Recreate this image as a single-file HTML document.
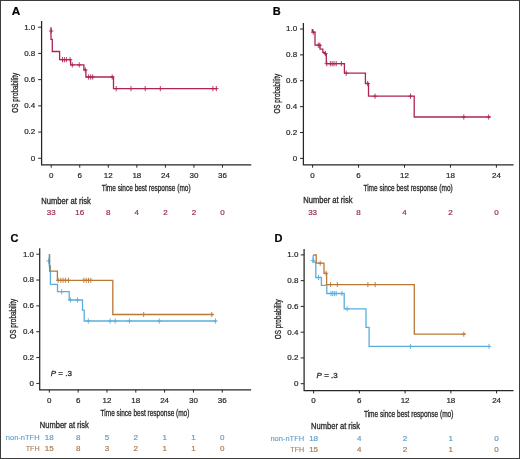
<!DOCTYPE html>
<html><head><meta charset="utf-8"><title>Kaplan-Meier OS curves</title>
<style>
html,body{margin:0;padding:0;background:#fff;}
body{width:520px;height:459px;overflow:hidden;}
.fig{position:relative;width:520px;height:459px;box-sizing:border-box;border:1px solid #3c3c3c;border-right-width:1.3px;border-bottom-width:1.3px;background:#fff;}
svg{position:absolute;left:-1px;top:-1px;font-family:"Liberation Sans", sans-serif;will-change:transform;}
</style></head>
<body><div class="fig">
<svg width="520" height="459" viewBox="0 0 520 459">
<path d="M41.60 20.90 V164.90 H251.20" fill="none" stroke="#262626" stroke-width="1.25"/>
<line x1="38.20" y1="27.20" x2="41.60" y2="27.20" stroke="#262626" stroke-width="1"/>
<text x="35.30" y="29.60" font-size="8.0" text-anchor="end" fill="#262626" stroke="#262626" stroke-width="0.2" font-weight="normal" >1.0</text>
<line x1="38.20" y1="53.42" x2="41.60" y2="53.42" stroke="#262626" stroke-width="1"/>
<text x="35.30" y="55.82" font-size="8.0" text-anchor="end" fill="#262626" stroke="#262626" stroke-width="0.2" font-weight="normal" >0.8</text>
<line x1="38.20" y1="79.64" x2="41.60" y2="79.64" stroke="#262626" stroke-width="1"/>
<text x="35.30" y="82.04" font-size="8.0" text-anchor="end" fill="#262626" stroke="#262626" stroke-width="0.2" font-weight="normal" >0.6</text>
<line x1="38.20" y1="105.86" x2="41.60" y2="105.86" stroke="#262626" stroke-width="1"/>
<text x="35.30" y="108.26" font-size="8.0" text-anchor="end" fill="#262626" stroke="#262626" stroke-width="0.2" font-weight="normal" >0.4</text>
<line x1="38.20" y1="132.08" x2="41.60" y2="132.08" stroke="#262626" stroke-width="1"/>
<text x="35.30" y="134.48" font-size="8.0" text-anchor="end" fill="#262626" stroke="#262626" stroke-width="0.2" font-weight="normal" >0.2</text>
<line x1="38.20" y1="158.30" x2="41.60" y2="158.30" stroke="#262626" stroke-width="1"/>
<text x="35.30" y="160.70" font-size="8.0" text-anchor="end" fill="#262626" stroke="#262626" stroke-width="0.2" font-weight="normal" >0</text>
<line x1="51.20" y1="164.90" x2="51.20" y2="167.70" stroke="#262626" stroke-width="1"/>
<text x="51.20" y="177.60" font-size="8.0" text-anchor="middle" fill="#262626" stroke="#262626" stroke-width="0.2" font-weight="normal" >0</text>
<line x1="79.75" y1="164.90" x2="79.75" y2="167.70" stroke="#262626" stroke-width="1"/>
<text x="79.75" y="177.60" font-size="8.0" text-anchor="middle" fill="#262626" stroke="#262626" stroke-width="0.2" font-weight="normal" >6</text>
<line x1="108.30" y1="164.90" x2="108.30" y2="167.70" stroke="#262626" stroke-width="1"/>
<text x="108.30" y="177.60" font-size="8.0" text-anchor="middle" fill="#262626" stroke="#262626" stroke-width="0.2" font-weight="normal" >12</text>
<line x1="136.85" y1="164.90" x2="136.85" y2="167.70" stroke="#262626" stroke-width="1"/>
<text x="136.85" y="177.60" font-size="8.0" text-anchor="middle" fill="#262626" stroke="#262626" stroke-width="0.2" font-weight="normal" >18</text>
<line x1="165.40" y1="164.90" x2="165.40" y2="167.70" stroke="#262626" stroke-width="1"/>
<text x="165.40" y="177.60" font-size="8.0" text-anchor="middle" fill="#262626" stroke="#262626" stroke-width="0.2" font-weight="normal" >24</text>
<line x1="193.95" y1="164.90" x2="193.95" y2="167.70" stroke="#262626" stroke-width="1"/>
<text x="193.95" y="177.60" font-size="8.0" text-anchor="middle" fill="#262626" stroke="#262626" stroke-width="0.2" font-weight="normal" >30</text>
<line x1="222.50" y1="164.90" x2="222.50" y2="167.70" stroke="#262626" stroke-width="1"/>
<text x="222.50" y="177.60" font-size="8.0" text-anchor="middle" fill="#262626" stroke="#262626" stroke-width="0.2" font-weight="normal" >36</text>
<text x="101.70" y="191.30" font-size="9.0" fill="#262626" stroke="#262626" stroke-width="0.3" textLength="88.90" lengthAdjust="spacingAndGlyphs">Time since best response (mo)</text>
<text transform="translate(17.90 92.75) rotate(-90)" x="0" y="0" font-size="9.4" fill="#262626" stroke="#262626" stroke-width="0.32" text-anchor="middle" textLength="39.8" lengthAdjust="spacingAndGlyphs">OS probability</text>
<text x="11.70" y="14.70" font-size="11.8" text-anchor="start" fill="#000" stroke="#000" stroke-width="0.2" font-weight="bold" >A</text>
<text x="41.30" y="203.90" font-size="8.4" fill="#262626" stroke="#262626" stroke-width="0.28" textLength="49.50" lengthAdjust="spacingAndGlyphs">Number at risk</text>
<text x="51.20" y="215.00" font-size="8.0" text-anchor="middle" fill="#9c2a4e" stroke="#9c2a4e" stroke-width="0.2" font-weight="normal" >33</text>
<text x="79.75" y="215.00" font-size="8.0" text-anchor="middle" fill="#9c2a4e" stroke="#9c2a4e" stroke-width="0.2" font-weight="normal" >16</text>
<text x="108.30" y="215.00" font-size="8.0" text-anchor="middle" fill="#9c2a4e" stroke="#9c2a4e" stroke-width="0.2" font-weight="normal" >8</text>
<text x="136.85" y="215.00" font-size="8.0" text-anchor="middle" fill="#9c2a4e" stroke="#9c2a4e" stroke-width="0.2" font-weight="normal" >4</text>
<text x="165.40" y="215.00" font-size="8.0" text-anchor="middle" fill="#9c2a4e" stroke="#9c2a4e" stroke-width="0.2" font-weight="normal" >2</text>
<text x="193.95" y="215.00" font-size="8.0" text-anchor="middle" fill="#9c2a4e" stroke="#9c2a4e" stroke-width="0.2" font-weight="normal" >2</text>
<text x="222.50" y="215.00" font-size="8.0" text-anchor="middle" fill="#9c2a4e" stroke="#9c2a4e" stroke-width="0.2" font-weight="normal" >0</text>
<path d="M51.0 27.3 V39.3 H52.3 V51.5 H59.6 V59.7 H70.6 V64.9 H83.9 V69.9 H85.9 V77.0 H113.5 V88.6 H216.9" fill="none" stroke="#ae2450" stroke-width="1.3" stroke-linejoin="miter"/>
<path d="M51.20 28.40 V33.60 M49.00 31.00 H53.40" stroke="#ae2450" stroke-width="0.9" fill="none"/>
<path d="M62.50 57.10 V62.30 M60.30 59.70 H64.70" stroke="#ae2450" stroke-width="0.9" fill="none"/>
<path d="M64.40 57.10 V62.30 M62.20 59.70 H66.60" stroke="#ae2450" stroke-width="0.9" fill="none"/>
<path d="M66.40 57.10 V62.30 M64.20 59.70 H68.60" stroke="#ae2450" stroke-width="0.9" fill="none"/>
<path d="M70.10 57.10 V62.30 M67.90 59.70 H72.30" stroke="#ae2450" stroke-width="0.9" fill="none"/>
<path d="M72.30 62.30 V67.50 M70.10 64.90 H74.50" stroke="#ae2450" stroke-width="0.9" fill="none"/>
<path d="M79.20 62.30 V67.50 M77.00 64.90 H81.40" stroke="#ae2450" stroke-width="0.9" fill="none"/>
<path d="M85.30 67.30 V72.50 M83.10 69.90 H87.50" stroke="#ae2450" stroke-width="0.9" fill="none"/>
<path d="M88.60 74.40 V79.60 M86.40 77.00 H90.80" stroke="#ae2450" stroke-width="0.9" fill="none"/>
<path d="M90.70 74.40 V79.60 M88.50 77.00 H92.90" stroke="#ae2450" stroke-width="0.9" fill="none"/>
<path d="M92.70 74.40 V79.60 M90.50 77.00 H94.90" stroke="#ae2450" stroke-width="0.9" fill="none"/>
<path d="M112.20 74.40 V79.60 M110.00 77.00 H114.40" stroke="#ae2450" stroke-width="0.9" fill="none"/>
<path d="M116.20 86.00 V91.20 M114.00 88.60 H118.40" stroke="#ae2450" stroke-width="0.9" fill="none"/>
<path d="M131.00 86.00 V91.20 M128.80 88.60 H133.20" stroke="#ae2450" stroke-width="0.9" fill="none"/>
<path d="M145.20 86.00 V91.20 M143.00 88.60 H147.40" stroke="#ae2450" stroke-width="0.9" fill="none"/>
<path d="M160.30 86.00 V91.20 M158.10 88.60 H162.50" stroke="#ae2450" stroke-width="0.9" fill="none"/>
<path d="M212.90 86.00 V91.20 M210.70 88.60 H215.10" stroke="#ae2450" stroke-width="0.9" fill="none"/>
<path d="M216.30 86.00 V91.20 M214.10 88.60 H218.50" stroke="#ae2450" stroke-width="0.9" fill="none"/>
<path d="M303.40 22.90 V164.90 H513.60" fill="none" stroke="#262626" stroke-width="1.25"/>
<line x1="300.00" y1="29.00" x2="303.40" y2="29.00" stroke="#262626" stroke-width="1"/>
<text x="297.10" y="31.40" font-size="8.0" text-anchor="end" fill="#262626" stroke="#262626" stroke-width="0.2" font-weight="normal" >1.0</text>
<line x1="300.00" y1="54.88" x2="303.40" y2="54.88" stroke="#262626" stroke-width="1"/>
<text x="297.10" y="57.28" font-size="8.0" text-anchor="end" fill="#262626" stroke="#262626" stroke-width="0.2" font-weight="normal" >0.8</text>
<line x1="300.00" y1="80.76" x2="303.40" y2="80.76" stroke="#262626" stroke-width="1"/>
<text x="297.10" y="83.16" font-size="8.0" text-anchor="end" fill="#262626" stroke="#262626" stroke-width="0.2" font-weight="normal" >0.6</text>
<line x1="300.00" y1="106.64" x2="303.40" y2="106.64" stroke="#262626" stroke-width="1"/>
<text x="297.10" y="109.04" font-size="8.0" text-anchor="end" fill="#262626" stroke="#262626" stroke-width="0.2" font-weight="normal" >0.4</text>
<line x1="300.00" y1="132.52" x2="303.40" y2="132.52" stroke="#262626" stroke-width="1"/>
<text x="297.10" y="134.92" font-size="8.0" text-anchor="end" fill="#262626" stroke="#262626" stroke-width="0.2" font-weight="normal" >0.2</text>
<line x1="300.00" y1="158.40" x2="303.40" y2="158.40" stroke="#262626" stroke-width="1"/>
<text x="297.10" y="160.80" font-size="8.0" text-anchor="end" fill="#262626" stroke="#262626" stroke-width="0.2" font-weight="normal" >0</text>
<line x1="312.60" y1="164.90" x2="312.60" y2="167.70" stroke="#262626" stroke-width="1"/>
<text x="312.60" y="177.80" font-size="8.0" text-anchor="middle" fill="#262626" stroke="#262626" stroke-width="0.2" font-weight="normal" >0</text>
<line x1="358.55" y1="164.90" x2="358.55" y2="167.70" stroke="#262626" stroke-width="1"/>
<text x="358.55" y="177.80" font-size="8.0" text-anchor="middle" fill="#262626" stroke="#262626" stroke-width="0.2" font-weight="normal" >6</text>
<line x1="404.50" y1="164.90" x2="404.50" y2="167.70" stroke="#262626" stroke-width="1"/>
<text x="404.50" y="177.80" font-size="8.0" text-anchor="middle" fill="#262626" stroke="#262626" stroke-width="0.2" font-weight="normal" >12</text>
<line x1="450.45" y1="164.90" x2="450.45" y2="167.70" stroke="#262626" stroke-width="1"/>
<text x="450.45" y="177.80" font-size="8.0" text-anchor="middle" fill="#262626" stroke="#262626" stroke-width="0.2" font-weight="normal" >18</text>
<line x1="496.40" y1="164.90" x2="496.40" y2="167.70" stroke="#262626" stroke-width="1"/>
<text x="496.40" y="177.80" font-size="8.0" text-anchor="middle" fill="#262626" stroke="#262626" stroke-width="0.2" font-weight="normal" >24</text>
<text x="363.40" y="191.20" font-size="9.0" fill="#262626" stroke="#262626" stroke-width="0.3" textLength="89.30" lengthAdjust="spacingAndGlyphs">Time since best response (mo)</text>
<text transform="translate(279.90 93.70) rotate(-90)" x="0" y="0" font-size="9.8" fill="#262626" stroke="#262626" stroke-width="0.32" text-anchor="middle" textLength="39.8" lengthAdjust="spacingAndGlyphs">OS probability</text>
<text x="272.70" y="14.75" font-size="11.0" text-anchor="start" fill="#000" stroke="#000" stroke-width="0.2" font-weight="bold" >B</text>
<text x="303.20" y="203.40" font-size="8.4" fill="#262626" stroke="#262626" stroke-width="0.28" textLength="49.30" lengthAdjust="spacingAndGlyphs">Number at risk</text>
<text x="312.60" y="214.80" font-size="8.0" text-anchor="middle" fill="#9c2a4e" stroke="#9c2a4e" stroke-width="0.2" font-weight="normal" >33</text>
<text x="358.55" y="214.80" font-size="8.0" text-anchor="middle" fill="#9c2a4e" stroke="#9c2a4e" stroke-width="0.2" font-weight="normal" >8</text>
<text x="404.50" y="214.80" font-size="8.0" text-anchor="middle" fill="#9c2a4e" stroke="#9c2a4e" stroke-width="0.2" font-weight="normal" >4</text>
<text x="450.45" y="214.80" font-size="8.0" text-anchor="middle" fill="#9c2a4e" stroke="#9c2a4e" stroke-width="0.2" font-weight="normal" >2</text>
<text x="496.40" y="214.80" font-size="8.0" text-anchor="middle" fill="#9c2a4e" stroke="#9c2a4e" stroke-width="0.2" font-weight="normal" >0</text>
<path d="M312.3 29.0 V32.2 H315.0 V45.2 H320.0 V49.2 H322.8 V52.3 H325.0 V54.2 H326.3 V63.7 H344.4 V73.2 H365.4 V83.5 H368.5 V96.2 H414.2 V117.0 H490.4" fill="none" stroke="#ae2450" stroke-width="1.3" stroke-linejoin="miter"/>
<path d="M313.30 29.60 V34.80 M311.10 32.20 H315.50" stroke="#ae2450" stroke-width="0.9" fill="none"/>
<path d="M318.30 42.60 V47.80 M316.10 45.20 H320.50" stroke="#ae2450" stroke-width="0.9" fill="none"/>
<path d="M319.80 42.60 V47.80 M317.60 45.20 H322.00" stroke="#ae2450" stroke-width="0.9" fill="none"/>
<path d="M325.40 50.90 V56.10 M323.20 53.50 H327.60" stroke="#ae2450" stroke-width="0.9" fill="none"/>
<path d="M326.80 61.10 V66.30 M324.60 63.70 H329.00" stroke="#ae2450" stroke-width="0.9" fill="none"/>
<path d="M330.30 61.10 V66.30 M328.10 63.70 H332.50" stroke="#ae2450" stroke-width="0.9" fill="none"/>
<path d="M332.20 61.10 V66.30 M330.00 63.70 H334.40" stroke="#ae2450" stroke-width="0.9" fill="none"/>
<path d="M334.00 61.10 V66.30 M331.80 63.70 H336.20" stroke="#ae2450" stroke-width="0.9" fill="none"/>
<path d="M336.20 61.10 V66.30 M334.00 63.70 H338.40" stroke="#ae2450" stroke-width="0.9" fill="none"/>
<path d="M341.40 61.10 V66.30 M339.20 63.70 H343.60" stroke="#ae2450" stroke-width="0.9" fill="none"/>
<path d="M346.20 70.60 V75.80 M344.00 73.20 H348.40" stroke="#ae2450" stroke-width="0.9" fill="none"/>
<path d="M367.70 80.90 V86.10 M365.50 83.50 H369.90" stroke="#ae2450" stroke-width="0.9" fill="none"/>
<path d="M375.00 93.60 V98.80 M372.80 96.20 H377.20" stroke="#ae2450" stroke-width="0.9" fill="none"/>
<path d="M410.50 93.60 V98.80 M408.30 96.20 H412.70" stroke="#ae2450" stroke-width="0.9" fill="none"/>
<path d="M463.80 114.40 V119.60 M461.60 117.00 H466.00" stroke="#ae2450" stroke-width="0.9" fill="none"/>
<path d="M488.70 114.40 V119.60 M486.50 117.00 H490.90" stroke="#ae2450" stroke-width="0.9" fill="none"/>
<path d="M39.70 248.20 V389.80 H251.10" fill="none" stroke="#262626" stroke-width="1.25"/>
<line x1="36.30" y1="254.20" x2="39.70" y2="254.20" stroke="#262626" stroke-width="1"/>
<text x="34.00" y="256.60" font-size="8.0" text-anchor="end" fill="#262626" stroke="#262626" stroke-width="0.2" font-weight="normal" >1.0</text>
<line x1="36.30" y1="280.04" x2="39.70" y2="280.04" stroke="#262626" stroke-width="1"/>
<text x="34.00" y="282.44" font-size="8.0" text-anchor="end" fill="#262626" stroke="#262626" stroke-width="0.2" font-weight="normal" >0.8</text>
<line x1="36.30" y1="305.88" x2="39.70" y2="305.88" stroke="#262626" stroke-width="1"/>
<text x="34.00" y="308.28" font-size="8.0" text-anchor="end" fill="#262626" stroke="#262626" stroke-width="0.2" font-weight="normal" >0.6</text>
<line x1="36.30" y1="331.72" x2="39.70" y2="331.72" stroke="#262626" stroke-width="1"/>
<text x="34.00" y="334.12" font-size="8.0" text-anchor="end" fill="#262626" stroke="#262626" stroke-width="0.2" font-weight="normal" >0.4</text>
<line x1="36.30" y1="357.56" x2="39.70" y2="357.56" stroke="#262626" stroke-width="1"/>
<text x="34.00" y="359.96" font-size="8.0" text-anchor="end" fill="#262626" stroke="#262626" stroke-width="0.2" font-weight="normal" >0.2</text>
<line x1="36.30" y1="383.40" x2="39.70" y2="383.40" stroke="#262626" stroke-width="1"/>
<text x="34.00" y="385.80" font-size="8.0" text-anchor="end" fill="#262626" stroke="#262626" stroke-width="0.2" font-weight="normal" >0</text>
<line x1="49.30" y1="389.80" x2="49.30" y2="392.60" stroke="#262626" stroke-width="1"/>
<text x="49.30" y="402.70" font-size="8.0" text-anchor="middle" fill="#262626" stroke="#262626" stroke-width="0.2" font-weight="normal" >0</text>
<line x1="78.13" y1="389.80" x2="78.13" y2="392.60" stroke="#262626" stroke-width="1"/>
<text x="78.13" y="402.70" font-size="8.0" text-anchor="middle" fill="#262626" stroke="#262626" stroke-width="0.2" font-weight="normal" >6</text>
<line x1="106.96" y1="389.80" x2="106.96" y2="392.60" stroke="#262626" stroke-width="1"/>
<text x="106.96" y="402.70" font-size="8.0" text-anchor="middle" fill="#262626" stroke="#262626" stroke-width="0.2" font-weight="normal" >12</text>
<line x1="135.79" y1="389.80" x2="135.79" y2="392.60" stroke="#262626" stroke-width="1"/>
<text x="135.79" y="402.70" font-size="8.0" text-anchor="middle" fill="#262626" stroke="#262626" stroke-width="0.2" font-weight="normal" >18</text>
<line x1="164.62" y1="389.80" x2="164.62" y2="392.60" stroke="#262626" stroke-width="1"/>
<text x="164.62" y="402.70" font-size="8.0" text-anchor="middle" fill="#262626" stroke="#262626" stroke-width="0.2" font-weight="normal" >24</text>
<line x1="193.45" y1="389.80" x2="193.45" y2="392.60" stroke="#262626" stroke-width="1"/>
<text x="193.45" y="402.70" font-size="8.0" text-anchor="middle" fill="#262626" stroke="#262626" stroke-width="0.2" font-weight="normal" >30</text>
<line x1="222.28" y1="389.80" x2="222.28" y2="392.60" stroke="#262626" stroke-width="1"/>
<text x="222.28" y="402.70" font-size="8.0" text-anchor="middle" fill="#262626" stroke="#262626" stroke-width="0.2" font-weight="normal" >36</text>
<text x="100.60" y="416.20" font-size="9.0" fill="#262626" stroke="#262626" stroke-width="0.3" textLength="88.80" lengthAdjust="spacingAndGlyphs">Time since best response (mo)</text>
<text transform="translate(16.30 318.80) rotate(-90)" x="0" y="0" font-size="9.4" fill="#262626" stroke="#262626" stroke-width="0.32" text-anchor="middle" textLength="39.8" lengthAdjust="spacingAndGlyphs">OS probability</text>
<text x="10.50" y="241.60" font-size="11.0" text-anchor="start" fill="#000" stroke="#000" stroke-width="0.2" font-weight="bold" >C</text>
<text x="39.80" y="428.30" font-size="8.4" fill="#262626" stroke="#262626" stroke-width="0.28" textLength="49.00" lengthAdjust="spacingAndGlyphs">Number at risk</text>
<text x="5.80" y="440.20" font-size="8" fill="#5a9fcc" stroke="#5a9fcc" stroke-width="0.12" textLength="33.8" lengthAdjust="spacingAndGlyphs">non-nTFH</text>
<text x="49.30" y="440.20" font-size="8.0" text-anchor="middle" fill="#5a9fcc" stroke="#5a9fcc" stroke-width="0.2" font-weight="normal" >18</text>
<text x="78.13" y="440.20" font-size="8.0" text-anchor="middle" fill="#5a9fcc" stroke="#5a9fcc" stroke-width="0.2" font-weight="normal" >8</text>
<text x="106.96" y="440.20" font-size="8.0" text-anchor="middle" fill="#5a9fcc" stroke="#5a9fcc" stroke-width="0.2" font-weight="normal" >5</text>
<text x="135.79" y="440.20" font-size="8.0" text-anchor="middle" fill="#5a9fcc" stroke="#5a9fcc" stroke-width="0.2" font-weight="normal" >2</text>
<text x="164.62" y="440.20" font-size="8.0" text-anchor="middle" fill="#5a9fcc" stroke="#5a9fcc" stroke-width="0.2" font-weight="normal" >1</text>
<text x="193.45" y="440.20" font-size="8.0" text-anchor="middle" fill="#5a9fcc" stroke="#5a9fcc" stroke-width="0.2" font-weight="normal" >1</text>
<text x="222.28" y="440.20" font-size="8.0" text-anchor="middle" fill="#5a9fcc" stroke="#5a9fcc" stroke-width="0.2" font-weight="normal" >0</text>
<text x="25.70" y="451.40" font-size="8" fill="#a97a4e" stroke="#a97a4e" stroke-width="0.12" textLength="13.9" lengthAdjust="spacingAndGlyphs">TFH</text>
<text x="49.30" y="451.40" font-size="8.0" text-anchor="middle" fill="#a97a4e" stroke="#a97a4e" stroke-width="0.2" font-weight="normal" >15</text>
<text x="78.13" y="451.40" font-size="8.0" text-anchor="middle" fill="#a97a4e" stroke="#a97a4e" stroke-width="0.2" font-weight="normal" >8</text>
<text x="106.96" y="451.40" font-size="8.0" text-anchor="middle" fill="#a97a4e" stroke="#a97a4e" stroke-width="0.2" font-weight="normal" >3</text>
<text x="135.79" y="451.40" font-size="8.0" text-anchor="middle" fill="#a97a4e" stroke="#a97a4e" stroke-width="0.2" font-weight="normal" >2</text>
<text x="164.62" y="451.40" font-size="8.0" text-anchor="middle" fill="#a97a4e" stroke="#a97a4e" stroke-width="0.2" font-weight="normal" >1</text>
<text x="193.45" y="451.40" font-size="8.0" text-anchor="middle" fill="#a97a4e" stroke="#a97a4e" stroke-width="0.2" font-weight="normal" >1</text>
<text x="222.28" y="451.40" font-size="8.0" text-anchor="middle" fill="#a97a4e" stroke="#a97a4e" stroke-width="0.2" font-weight="normal" >0</text>
<path d="M49.3 254.2 V266 H50.4 V284.3 H57.5 V291.7 H69.2 V300.0 H82.5 V310.2 H84.2 V321.0 H216.5" fill="none" stroke="#5aaedb" stroke-width="1.3" stroke-linejoin="miter"/>
<path d="M48.50 258.40 V263.60 M46.30 261.00 H50.70" stroke="#5aaedb" stroke-width="0.9" fill="none"/>
<path d="M61.70 289.10 V294.30 M59.50 291.70 H63.90" stroke="#5aaedb" stroke-width="0.9" fill="none"/>
<path d="M70.40 297.40 V302.60 M68.20 300.00 H72.60" stroke="#5aaedb" stroke-width="0.9" fill="none"/>
<path d="M77.50 297.40 V302.60 M75.30 300.00 H79.70" stroke="#5aaedb" stroke-width="0.9" fill="none"/>
<path d="M88.30 318.40 V323.60 M86.10 321.00 H90.50" stroke="#5aaedb" stroke-width="0.9" fill="none"/>
<path d="M110.20 318.40 V323.60 M108.00 321.00 H112.40" stroke="#5aaedb" stroke-width="0.9" fill="none"/>
<path d="M115.20 318.40 V323.60 M113.00 321.00 H117.40" stroke="#5aaedb" stroke-width="0.9" fill="none"/>
<path d="M129.40 318.40 V323.60 M127.20 321.00 H131.60" stroke="#5aaedb" stroke-width="0.9" fill="none"/>
<path d="M159.30 318.40 V323.60 M157.10 321.00 H161.50" stroke="#5aaedb" stroke-width="0.9" fill="none"/>
<path d="M215.40 318.40 V323.60 M213.20 321.00 H217.60" stroke="#5aaedb" stroke-width="0.9" fill="none"/>
<path d="M49.6 254.2 V271.1 H57.4 V280.3 H112.8 V314.5 H213.5" fill="none" stroke="#b97836" stroke-width="1.3" stroke-linejoin="miter"/>
<path d="M58.20 277.70 V282.90 M56.00 280.30 H60.40" stroke="#b97836" stroke-width="0.9" fill="none"/>
<path d="M60.80 277.70 V282.90 M58.60 280.30 H63.00" stroke="#b97836" stroke-width="0.9" fill="none"/>
<path d="M63.10 277.70 V282.90 M60.90 280.30 H65.30" stroke="#b97836" stroke-width="0.9" fill="none"/>
<path d="M65.40 277.70 V282.90 M63.20 280.30 H67.60" stroke="#b97836" stroke-width="0.9" fill="none"/>
<path d="M68.50 277.70 V282.90 M66.30 280.30 H70.70" stroke="#b97836" stroke-width="0.9" fill="none"/>
<path d="M83.80 277.70 V282.90 M81.60 280.30 H86.00" stroke="#b97836" stroke-width="0.9" fill="none"/>
<path d="M86.20 277.70 V282.90 M84.00 280.30 H88.40" stroke="#b97836" stroke-width="0.9" fill="none"/>
<path d="M88.50 277.70 V282.90 M86.30 280.30 H90.70" stroke="#b97836" stroke-width="0.9" fill="none"/>
<path d="M90.80 277.70 V282.90 M88.60 280.30 H93.00" stroke="#b97836" stroke-width="0.9" fill="none"/>
<path d="M143.70 311.90 V317.10 M141.50 314.50 H145.90" stroke="#b97836" stroke-width="0.9" fill="none"/>
<path d="M211.80 311.90 V317.10 M209.60 314.50 H214.00" stroke="#b97836" stroke-width="0.9" fill="none"/>
<text x="50.80" y="375.90" font-size="8" fill="#262626" stroke="#262626" stroke-width="0.28"><tspan font-style="italic">P</tspan> = .3</text>
<path d="M304.10 249.00 V390.60 H513.50" fill="none" stroke="#262626" stroke-width="1.25"/>
<line x1="300.70" y1="254.90" x2="304.10" y2="254.90" stroke="#262626" stroke-width="1"/>
<text x="298.40" y="257.30" font-size="8.0" text-anchor="end" fill="#262626" stroke="#262626" stroke-width="0.2" font-weight="normal" >1.0</text>
<line x1="300.70" y1="280.66" x2="304.10" y2="280.66" stroke="#262626" stroke-width="1"/>
<text x="298.40" y="283.06" font-size="8.0" text-anchor="end" fill="#262626" stroke="#262626" stroke-width="0.2" font-weight="normal" >0.8</text>
<line x1="300.70" y1="306.42" x2="304.10" y2="306.42" stroke="#262626" stroke-width="1"/>
<text x="298.40" y="308.82" font-size="8.0" text-anchor="end" fill="#262626" stroke="#262626" stroke-width="0.2" font-weight="normal" >0.6</text>
<line x1="300.70" y1="332.18" x2="304.10" y2="332.18" stroke="#262626" stroke-width="1"/>
<text x="298.40" y="334.58" font-size="8.0" text-anchor="end" fill="#262626" stroke="#262626" stroke-width="0.2" font-weight="normal" >0.4</text>
<line x1="300.70" y1="357.94" x2="304.10" y2="357.94" stroke="#262626" stroke-width="1"/>
<text x="298.40" y="360.34" font-size="8.0" text-anchor="end" fill="#262626" stroke="#262626" stroke-width="0.2" font-weight="normal" >0.2</text>
<line x1="300.70" y1="383.70" x2="304.10" y2="383.70" stroke="#262626" stroke-width="1"/>
<text x="298.40" y="386.10" font-size="8.0" text-anchor="end" fill="#262626" stroke="#262626" stroke-width="0.2" font-weight="normal" >0</text>
<line x1="313.60" y1="390.60" x2="313.60" y2="393.40" stroke="#262626" stroke-width="1"/>
<text x="313.60" y="403.20" font-size="8.0" text-anchor="middle" fill="#262626" stroke="#262626" stroke-width="0.2" font-weight="normal" >0</text>
<line x1="359.35" y1="390.60" x2="359.35" y2="393.40" stroke="#262626" stroke-width="1"/>
<text x="359.35" y="403.20" font-size="8.0" text-anchor="middle" fill="#262626" stroke="#262626" stroke-width="0.2" font-weight="normal" >6</text>
<line x1="405.10" y1="390.60" x2="405.10" y2="393.40" stroke="#262626" stroke-width="1"/>
<text x="405.10" y="403.20" font-size="8.0" text-anchor="middle" fill="#262626" stroke="#262626" stroke-width="0.2" font-weight="normal" >12</text>
<line x1="450.85" y1="390.60" x2="450.85" y2="393.40" stroke="#262626" stroke-width="1"/>
<text x="450.85" y="403.20" font-size="8.0" text-anchor="middle" fill="#262626" stroke="#262626" stroke-width="0.2" font-weight="normal" >18</text>
<line x1="496.60" y1="390.60" x2="496.60" y2="393.40" stroke="#262626" stroke-width="1"/>
<text x="496.60" y="403.20" font-size="8.0" text-anchor="middle" fill="#262626" stroke="#262626" stroke-width="0.2" font-weight="normal" >24</text>
<text x="363.90" y="417.00" font-size="9.0" fill="#262626" stroke="#262626" stroke-width="0.3" textLength="89.50" lengthAdjust="spacingAndGlyphs">Time since best response (mo)</text>
<text transform="translate(280.80 319.30) rotate(-90)" x="0" y="0" font-size="9.4" fill="#262626" stroke="#262626" stroke-width="0.32" text-anchor="middle" textLength="39.8" lengthAdjust="spacingAndGlyphs">OS probability</text>
<text x="274.50" y="241.60" font-size="11.0" text-anchor="start" fill="#000" stroke="#000" stroke-width="0.2" font-weight="bold" >D</text>
<text x="311.10" y="428.90" font-size="8.4" fill="#262626" stroke="#262626" stroke-width="0.28" textLength="49.00" lengthAdjust="spacingAndGlyphs">Number at risk</text>
<text x="270.40" y="440.70" font-size="8" fill="#5a9fcc" stroke="#5a9fcc" stroke-width="0.12" textLength="33.8" lengthAdjust="spacingAndGlyphs">non-nTFH</text>
<text x="313.60" y="440.70" font-size="8.0" text-anchor="middle" fill="#5a9fcc" stroke="#5a9fcc" stroke-width="0.2" font-weight="normal" >18</text>
<text x="359.35" y="440.70" font-size="8.0" text-anchor="middle" fill="#5a9fcc" stroke="#5a9fcc" stroke-width="0.2" font-weight="normal" >4</text>
<text x="405.10" y="440.70" font-size="8.0" text-anchor="middle" fill="#5a9fcc" stroke="#5a9fcc" stroke-width="0.2" font-weight="normal" >2</text>
<text x="450.85" y="440.70" font-size="8.0" text-anchor="middle" fill="#5a9fcc" stroke="#5a9fcc" stroke-width="0.2" font-weight="normal" >1</text>
<text x="496.60" y="440.70" font-size="8.0" text-anchor="middle" fill="#5a9fcc" stroke="#5a9fcc" stroke-width="0.2" font-weight="normal" >0</text>
<text x="290.30" y="452.30" font-size="8" fill="#a97a4e" stroke="#a97a4e" stroke-width="0.12" textLength="13.9" lengthAdjust="spacingAndGlyphs">TFH</text>
<text x="313.60" y="452.30" font-size="8.0" text-anchor="middle" fill="#a97a4e" stroke="#a97a4e" stroke-width="0.2" font-weight="normal" >15</text>
<text x="359.35" y="452.30" font-size="8.0" text-anchor="middle" fill="#a97a4e" stroke="#a97a4e" stroke-width="0.2" font-weight="normal" >4</text>
<text x="405.10" y="452.30" font-size="8.0" text-anchor="middle" fill="#a97a4e" stroke="#a97a4e" stroke-width="0.2" font-weight="normal" >2</text>
<text x="450.85" y="452.30" font-size="8.0" text-anchor="middle" fill="#a97a4e" stroke="#a97a4e" stroke-width="0.2" font-weight="normal" >1</text>
<text x="496.60" y="452.30" font-size="8.0" text-anchor="middle" fill="#a97a4e" stroke="#a97a4e" stroke-width="0.2" font-weight="normal" >0</text>
<path d="M313.2 255.2 V262.2 H315.8 V277.5 H321.4 V285.3 H326.8 V293.5 H344.2 V308.8 H366.0 V327.4 H369.1 V346.4 H489.8" fill="none" stroke="#5aaedb" stroke-width="1.3" stroke-linejoin="miter"/>
<path d="M313.00 257.90 V263.10 M310.80 260.50 H315.20" stroke="#5aaedb" stroke-width="0.9" fill="none"/>
<path d="M318.50 274.90 V280.10 M316.30 277.50 H320.70" stroke="#5aaedb" stroke-width="0.9" fill="none"/>
<path d="M331.00 290.90 V296.10 M328.80 293.50 H333.20" stroke="#5aaedb" stroke-width="0.9" fill="none"/>
<path d="M332.70 290.90 V296.10 M330.50 293.50 H334.90" stroke="#5aaedb" stroke-width="0.9" fill="none"/>
<path d="M334.40 290.90 V296.10 M332.20 293.50 H336.60" stroke="#5aaedb" stroke-width="0.9" fill="none"/>
<path d="M336.20 290.90 V296.10 M334.00 293.50 H338.40" stroke="#5aaedb" stroke-width="0.9" fill="none"/>
<path d="M341.90 290.90 V296.10 M339.70 293.50 H344.10" stroke="#5aaedb" stroke-width="0.9" fill="none"/>
<path d="M347.10 306.20 V311.40 M344.90 308.80 H349.30" stroke="#5aaedb" stroke-width="0.9" fill="none"/>
<path d="M410.40 343.80 V349.00 M408.20 346.40 H412.60" stroke="#5aaedb" stroke-width="0.9" fill="none"/>
<path d="M489.00 343.80 V349.00 M486.80 346.40 H491.20" stroke="#5aaedb" stroke-width="0.9" fill="none"/>
<path d="M313.3 255.0 H316.2 V263.2 H324.0 V273.3 H326.6 V284.6 H414.3 V334.2 H465.3" fill="none" stroke="#b97836" stroke-width="1.3" stroke-linejoin="miter"/>
<path d="M320.20 260.60 V265.80 M318.00 263.20 H322.40" stroke="#b97836" stroke-width="0.9" fill="none"/>
<path d="M326.10 270.70 V275.90 M323.90 273.30 H328.30" stroke="#b97836" stroke-width="0.9" fill="none"/>
<path d="M330.60 282.00 V287.20 M328.40 284.60 H332.80" stroke="#b97836" stroke-width="0.9" fill="none"/>
<path d="M337.30 282.00 V287.20 M335.10 284.60 H339.50" stroke="#b97836" stroke-width="0.9" fill="none"/>
<path d="M367.90 282.00 V287.20 M365.70 284.60 H370.10" stroke="#b97836" stroke-width="0.9" fill="none"/>
<path d="M375.20 282.00 V287.20 M373.00 284.60 H377.40" stroke="#b97836" stroke-width="0.9" fill="none"/>
<path d="M463.80 331.60 V336.80 M461.60 334.20 H466.00" stroke="#b97836" stroke-width="0.9" fill="none"/>
<text x="316.60" y="378.20" font-size="8" fill="#262626" stroke="#262626" stroke-width="0.28"><tspan font-style="italic">P</tspan> = .3</text>
</svg></div></body></html>
